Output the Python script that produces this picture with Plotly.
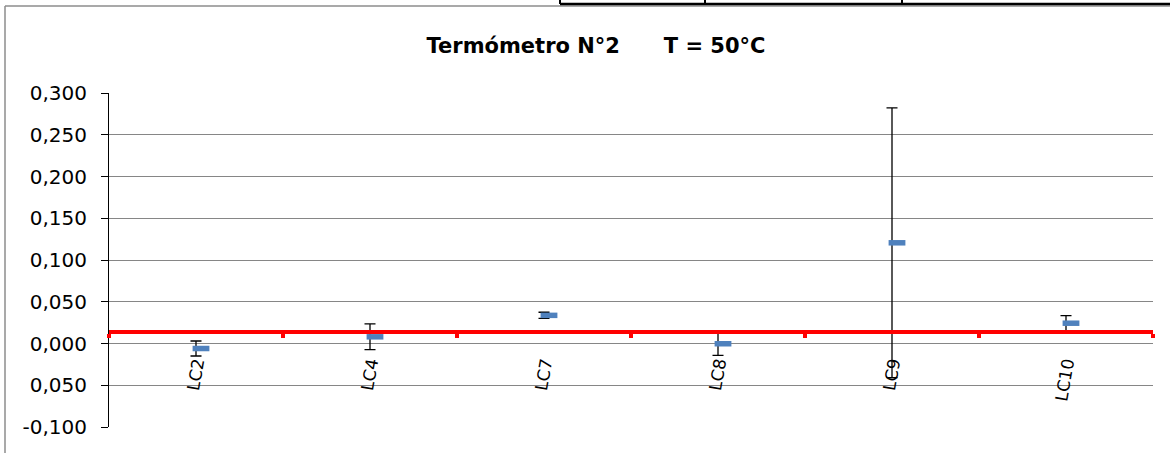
import plotly.graph_objects as go

# Category labels and measured values
categories = ["LC2", "LC4", "LC7", "LC8", "LC9", "LC10"]
values = [-0.006, 0.008, 0.0337, -0.0003, 0.1206, 0.0243]
errors = [0.009, 0.0154, 0.0037, 0.014, 0.1615, 0.009]

# Level where the horizontal (category) axis crosses
axis_cross = 0.0132

# Y axis scale and labels
y_min, y_max = -0.100, 0.300
y_ticks = [-0.100, -0.050, 0.000, 0.050, 0.100, 0.150, 0.200, 0.250, 0.300]
y_tick_text = ["-0,100", "0,050", "0,000", "0,050", "0,100", "0,150", "0,200", "0,250", "0,300"]
grid_vals = [-0.050, 0.000, 0.050, 0.100, 0.150, 0.200, 0.250, 0.300]

W, H = 1170, 453
ML, MR, MT, MB = 109, 17, 93, 26
PW, PH = W - ML - MR, H - MT - MB

BLUE = "#4F81BD"
FONT = "DejaVu Sans"


def px_x(p):
    return (p - ML) / PW


def px_y(p):
    return (H - MB - p) / PH


fig = go.Figure()

# grid lines on an overlaid axis (no line at the bottom edge)
fig.add_trace(go.Scatter(x=[categories[0]], y=[y_min], mode="markers",
                         marker=dict(color="rgba(0,0,0,0)", size=1),
                         xaxis="x", yaxis="y2", hoverinfo="skip", showlegend=False))

# error bars at the category centres
fig.add_trace(go.Scatter(
    x=categories, y=values, mode="markers",
    marker=dict(color="rgba(0,0,0,0)", size=1),
    error_y=dict(type="data", array=errors, visible=True, color="black",
                 thickness=1.3, width=5.5),
    xaxis="x", yaxis="y", showlegend=False,
))

# dash markers
fig.add_trace(go.Scatter(
    x=categories, y=values, mode="markers",
    marker=dict(symbol="line-ew", size=12, color=BLUE,
                line=dict(color=BLUE, width=5.5)),
    xaxis="x2", yaxis="y", showlegend=False,
))

shift = 5 / (PW / len(categories))
cross_pos = (axis_cross - y_min) / (y_max - y_min)

fig.update_layout(
    width=W, height=H,
    margin=dict(l=ML, r=MR, t=MT, b=MB),
    paper_bgcolor="white", plot_bgcolor="white",
    showlegend=False,
    title=dict(text="<b>Termómetro N°2      T = 50°C</b>",
               x=px_x(596), xref="paper", xanchor="center",
               y=1 - 46 / H, yref="container", yanchor="middle",
               font=dict(family=FONT, size=21, color="black")),
    xaxis=dict(
        type="category", categoryorder="array", categoryarray=categories,
        range=[-0.5, len(categories) - 0.5],
        anchor="free", position=cross_pos,
        showline=True, linecolor="#FF0000", linewidth=4,
        ticks="outside", tickson="boundaries", tickcolor="#FF0000",
        ticklen=4, tickwidth=4,
        tickangle=-80, ticklabelstandoff=12,
        tickfont=dict(family=FONT, size=17, color="black"),
        showgrid=False, zeroline=False,
    ),
    xaxis2=dict(
        type="category", categoryorder="array", categoryarray=categories,
        range=[-0.5 - shift, len(categories) - 0.5 - shift],
        overlaying="x", visible=False,
    ),
    yaxis=dict(
        range=[y_min, y_max], tickvals=y_ticks, ticktext=y_tick_text,
        showline=True, linecolor="black", linewidth=1,
        ticks="outside", ticklen=7, tickcolor="black", tickwidth=1,
        ticklabelstandoff=10,
        tickfont=dict(family=FONT, size=20, color="black"),
        showgrid=False, zeroline=False,
    ),
    yaxis2=dict(
        range=[y_min, y_max], tickvals=grid_vals, overlaying="y",
        showgrid=True, gridcolor="#868686", gridwidth=1,
        showticklabels=False, ticks="", showline=False, zeroline=False,
    ),
)

# chart frame and the table border above it
shapes = [
    dict(type="line", xref="paper", yref="paper",
         x0=px_x(5), x1=px_x(5), y0=px_y(6), y1=px_y(H + 5),
         line=dict(color="#8C8C8C", width=1.5)),
    dict(type="line", xref="paper", yref="paper",
         x0=px_x(5), x1=px_x(W + 5), y0=px_y(6), y1=px_y(6),
         line=dict(color="#8C8C8C", width=1.5)),
    dict(type="line", xref="paper", yref="paper",
         x0=px_x(560), x1=px_x(W + 5), y0=px_y(4), y1=px_y(4),
         line=dict(color="black", width=2.5)),
]
for vx in (560, 705, 902):
    shapes.append(dict(type="line", xref="paper", yref="paper",
                       x0=px_x(vx), x1=px_x(vx), y0=px_y(-2), y1=px_y(4),
                       line=dict(color="black", width=2)))
fig.update_layout(shapes=shapes)

fig.write_html("out.html")
